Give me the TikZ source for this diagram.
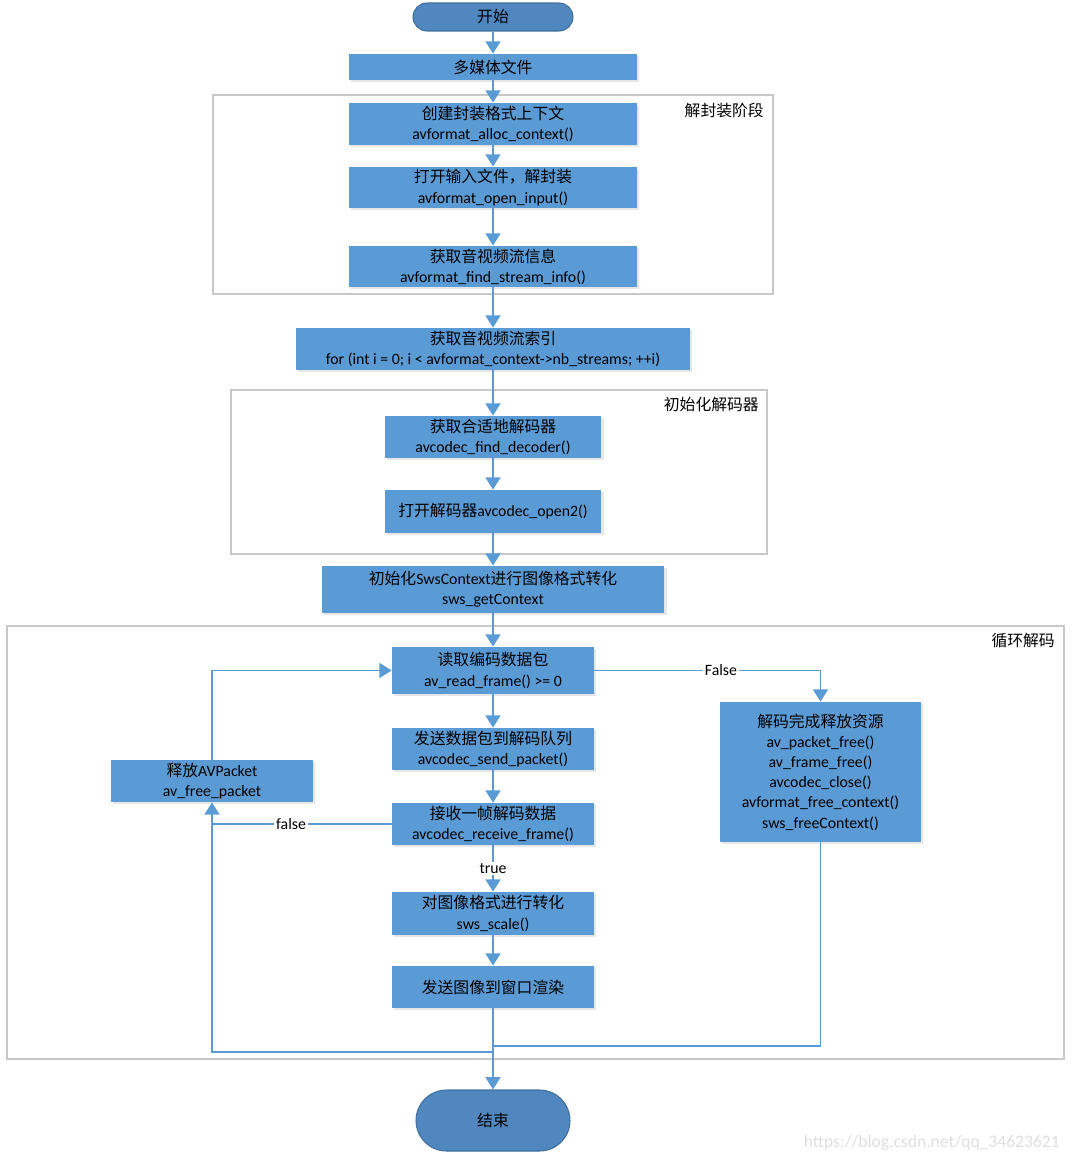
\documentclass[tikz,border=0pt]{standalone}
\usepackage{fontspec}
\setmainfont{Carlito}
\newfontfamily\cjk{Noto Sans CJK SC}
\newcommand\zh[1]{{\cjk #1}}
\usetikzlibrary{shapes.misc,arrows.meta,shadows}

\definecolor{boxblue}{RGB}{91,155,213}
\definecolor{termblue}{RGB}{80,135,190}
\definecolor{termline}{RGB}{65,113,156}
\definecolor{framegray}{RGB}{200,200,200}

\begin{document}
\begin{tikzpicture}[x=0.02cm,y=-0.02cm]

\tikzstyle{every node}=[font=\fontsize{9}{11.5}\selectfont, align=center]
\tikzstyle{box}=[rectangle, fill=boxblue, inner sep=0pt, drop shadow={opacity=0.2,shadow xshift=1.2pt,shadow yshift=-1.2pt}]
\tikzstyle{term}=[rounded rectangle, fill=termblue, draw=termline, line width=0.6pt, inner sep=0pt]
\tikzstyle{frame}=[draw=framegray, line width=0.6pt]
\tikzstyle{flow}=[draw=boxblue, line width=1.1pt]
\tikzstyle{arrow}=[flow, -{Triangle[width=8.5pt,length=7pt]}]
\tikzstyle{lbl}=[fill=white, inner sep=1pt]

\useasboundingbox (0,0) rectangle (1073,1163);

% stage frames
\draw[frame] (213,95) rectangle (773,294);
\node[anchor=east] (demuxlbl) at (770,110) {\zh{解封装阶段}};
\draw[frame] (231,390) rectangle (767,554);
\node[anchor=east] (decinitlbl) at (765,405) {\zh{初始化解码器}};
\draw[frame] (7,626) rectangle (1064,1059);
\node[anchor=east] (looplbl) at (1061,641) {\zh{循环解码}};

\pgfmathsetmacro\x{493}

\pgfmathsetmacro\y{17}
\node[term, minimum width=3.2cm, minimum height=0.56cm] (start) at (\x,\y) {\zh{开始}};

\pgfmathsetmacro\y{67}
\node[box, minimum width=5.76cm, minimum height=0.52cm] (media) at (\x,\y) {\zh{多媒体文件}};

\pgfmathsetmacro\y{124}
\node[box, minimum width=5.76cm, minimum height=0.84cm] (create) at (\x,\y) {\zh{创建封装格式上下文}\\avformat\_alloc\_context()};

\pgfmathsetmacro\y{\y+63.5}
\node[box, minimum width=5.76cm, minimum height=0.82cm] (openin) at (\x,\y) {\zh{打开输入文件，解封装}\\avformat\_open\_input()};

\pgfmathsetmacro\y{\y+79}
\node[box, minimum width=5.76cm, minimum height=0.82cm] (info) at (\x,\y) {\zh{获取音视频流信息}\\avformat\_find\_stream\_info()};

\pgfmathsetmacro\y{349}
\node[box, minimum width=7.88cm, minimum height=0.84cm] (index) at (\x,\y) {\zh{获取音视频流索引}\\for (int i = 0; i < avformat\_context->nb\_streams; ++i)};

\pgfmathsetmacro\y{437}
\node[box, minimum width=4.34cm, minimum height=0.84cm] (finddec) at (\x,\y) {\zh{获取合适地解码器}\\avcodec\_find\_decoder()};

\pgfmathsetmacro\y{\y+74.5}
\node[box, minimum width=4.34cm, minimum height=0.86cm] (opendec) at (\x,\y) {\zh{打开解码器}avcodec\_open2()};

\pgfmathsetmacro\y{589.5}
\node[box, minimum width=6.86cm, minimum height=0.94cm] (sws) at (\x,\y) {\zh{初始化}SwsContext\zh{进行图像格式转化}\\sws\_getContext};

\pgfmathsetmacro\y{670.5}
\node[box, minimum width=4.04cm, minimum height=0.94cm] (read) at (\x,\y) {\zh{读取编码数据包}\\av\_read\_frame() >= 0};

\pgfmathsetmacro\y{749}
\node[box, minimum width=4.04cm, minimum height=0.84cm] (send) at (\x,\y) {\zh{发送数据包到解码队列}\\avcodec\_send\_packet()};
\node[box, minimum width=4.04cm, minimum height=0.84cm] (release) at (212,781) {\zh{释放}AVPacket\\av\_free\_packet};
\node[box, minimum width=4.02cm, minimum height=2.8cm] (dispose) at (820.5,772) {\zh{解码完成释放资源}\\av\_packet\_free()\\av\_frame\_free()\\avcodec\_close()\\avformat\_free\_context()\\sws\_freeContext()};

\pgfmathsetmacro\y{824}
\node[box, minimum width=4.04cm, minimum height=0.84cm] (recv) at (\x,\y) {\zh{接收一帧解码数据}\\avcodec\_receive\_frame()};

\pgfmathsetmacro\y{913.5}
\node[box, minimum width=4.04cm, minimum height=0.86cm] (scale) at (\x,\y) {\zh{对图像格式进行转化}\\sws\_scale()};

\pgfmathsetmacro\y{987}
\node[box, minimum width=4.04cm, minimum height=0.84cm] (render) at (\x,\y) {\zh{发送图像到窗口渲染}};

\pgfmathsetmacro\y{1120.5}
\node[term, minimum width=3.08cm, minimum height=1.22cm] (end) at (\x,\y) {\zh{结束}};

\draw[arrow] (start) -- (media);
\draw[arrow] (media) -- (create);
\draw[arrow] (create) -- (openin);
\draw[arrow] (openin) -- (info);
\draw[arrow] (info) -- (index);
\draw[arrow] (index) -- (finddec);
\draw[arrow] (finddec) -- (opendec);
\draw[arrow] (opendec) -- (sws);
\draw[arrow] (sws) -- (read);
\draw[arrow] (read) -- (send);
\draw[arrow] (send) -- (recv);
\draw[arrow] (recv) -- node[lbl] {true} (scale);
\draw[arrow] (scale) -- (render);
\draw[arrow] (render) -- (end);

\draw[arrow] (read.east) -| node[lbl, pos=0.28] {False} (dispose.north);
\draw[arrow] (release.north) |- (read.west);
\draw[flow] (recv.west) -- node[lbl, pos=0.56] {false} (recv.west -| release.south);

\coordinate (loopL) at (212,1052);
\coordinate (loopR) at (493,1046);
\draw[arrow] (render.south) -- (render.south |- loopL) -- (loopL) -- (release.south);
\draw[flow] (dispose.south) |- (loopR);

\node[text=gray!25, anchor=east, font=\fontsize{10}{12}\selectfont] (mark) at (1066,1143) {https://blog.csdn.net/qq\_34623621};

\end{tikzpicture}
\end{document}
